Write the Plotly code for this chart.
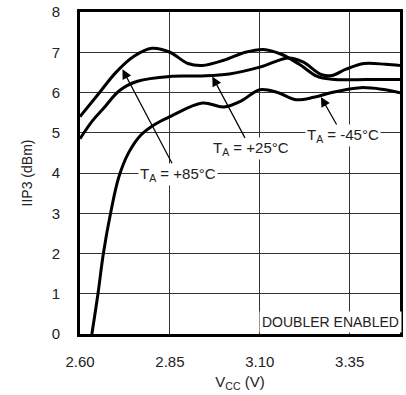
import plotly.graph_objects as go

# Data
x_85 = [2.60, 2.65, 2.70, 2.75, 2.80, 2.85, 2.90, 2.94, 3.00, 3.06, 3.11, 3.16, 3.21, 3.26, 3.30, 3.40, 3.49]
y_85 = [5.40, 5.95, 6.50, 6.90, 7.10, 7.00, 6.72, 6.67, 6.80, 7.00, 7.07, 6.95, 6.70, 6.40, 6.33, 6.32, 6.32]

x_25 = [2.60, 2.635, 2.665, 2.71, 2.76, 2.85, 2.94, 3.015, 3.10, 3.18, 3.22, 3.27, 3.30, 3.34, 3.39, 3.45, 3.49]
y_25 = [4.85, 5.30, 5.60, 6.05, 6.28, 6.40, 6.41, 6.46, 6.63, 6.86, 6.76, 6.45, 6.42, 6.58, 6.72, 6.70, 6.67]

x_m45 = [2.633, 2.650, 2.665, 2.685, 2.708, 2.735, 2.77, 2.81, 2.85, 2.94, 3.00, 3.05, 3.10, 3.15, 3.20, 3.25, 3.30, 3.38, 3.44, 3.49]
y_m45 = [0.00, 1.00, 2.00, 3.00, 3.90, 4.50, 4.95, 5.22, 5.40, 5.74, 5.64, 5.80, 6.07, 6.00, 5.82, 5.88, 6.00, 6.12, 6.08, 5.99]

x_ticks = [2.60, 2.85, 3.10, 3.35]
x_ticklabels = ["2.60", "2.85", "3.10", "3.35"]
y_ticks = [0, 1, 2, 3, 4, 5, 6, 7, 8]

FONT = "Liberation Sans Narrow, Arial Narrow, Liberation Sans, sans-serif"

fig = go.Figure()
for xs, ys in [(x_85, y_85), (x_25, y_25), (x_m45, y_m45)]:
    fig.add_trace(go.Scatter(x=xs, y=ys, mode="lines",
                             line=dict(color="black", width=3, shape="spline", smoothing=1.0),
                             showlegend=False, hoverinfo="skip"))

ann_common = dict(showarrow=True, arrowhead=2, arrowsize=1.6, arrowwidth=1.2,
                  arrowcolor="black", axref="x", ayref="y", bgcolor="white",
                  font=dict(family=FONT, size=15, color="#222"), borderpad=1)

fig.add_annotation(x=2.718, y=6.58, ax=2.872, ay=3.97,
                   text="T<sub>A</sub> = +85°C", **ann_common)
fig.add_annotation(x=2.968, y=6.40, ax=3.075, ay=4.60,
                   text="T<sub>A</sub> = +25°C", **ann_common)
fig.add_annotation(x=3.270, y=5.89, ax=3.331, ay=4.93,
                   text="T<sub>A</sub> = -45°C", **ann_common)
fig.add_annotation(x=3.297, y=0.30, showarrow=False, text="DOUBLER ENABLED",
                   bgcolor="white", font=dict(family=FONT, size=14, color="#222"),
                   borderpad=2)

fig.update_layout(
    width=406, height=395,
    margin=dict(l=80, r=3, t=10, b=61),
    paper_bgcolor="white", plot_bgcolor="white",
    font=dict(family=FONT, size=15, color="#222"),
    xaxis=dict(range=[2.60, 3.49], tickvals=x_ticks, ticktext=x_ticklabels,
               showgrid=True, gridcolor="#333", gridwidth=1,
               showline=True, linecolor="black", linewidth=3, mirror=True,
               ticks="", ticklabelstandoff=12, zeroline=False,
               tickfont=dict(family=FONT, size=15),
               title=dict(text="V<sub>CC</sub> (V)", standoff=8,
                          font=dict(family=FONT, size=15))),
    yaxis=dict(range=[0, 8], tickvals=y_ticks,
               showgrid=True, gridcolor="#333", gridwidth=1,
               showline=True, linecolor="black", linewidth=3, mirror=True,
               ticks="", ticklabelstandoff=14, zeroline=False,
               tickfont=dict(family=FONT, size=15),
               title=dict(text="IIP3 (dBm)", standoff=16,
                          font=dict(family=FONT, size=14))),
)

fig.write_html("out.html")
